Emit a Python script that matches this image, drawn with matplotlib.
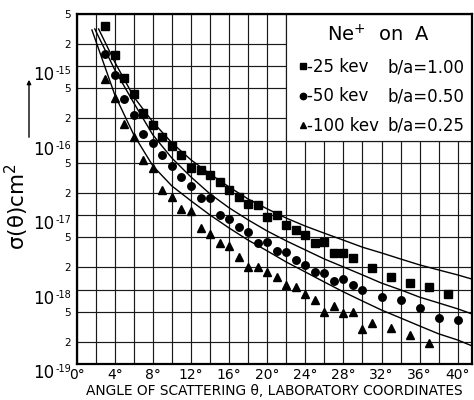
import numpy as np
import matplotlib.pyplot as plt
from matplotlib.ticker import FixedLocator, NullFormatter, FuncFormatter
from matplotlib.lines import Line2D
from matplotlib.patches import Rectangle

plt.rcParams['font.family'] = ['DejaVu Sans']

# measured differential cross sections, Ne+ on A (cm^2 per sr)
ang_25 = [3, 4, 5, 6, 7, 8, 9, 10, 11, 12, 13, 14, 15, 16, 17, 18, 19, 20,
          21, 22, 23, 24, 25, 26, 27, 28, 29, 31, 33, 35, 37, 39]
sig_25 = [3.45e-15, 1.41e-15, 6.9e-16, 4.2e-16, 2.34e-16, 1.62e-16, 1.12e-16,
          8.45e-17, 6.4e-17, 4.3e-17, 4.0e-17, 3.4e-17, 2.8e-17, 2.2e-17,
          1.77e-17, 1.41e-17, 1.35e-17, 9.4e-18, 9.9e-18, 7.4e-18, 6.3e-18,
          5.4e-18, 4.2e-18, 4.3e-18, 3.1e-18, 3.1e-18, 2.63e-18, 1.97e-18,
          1.49e-18, 1.21e-18, 1.09e-18, 8.6e-19]

ang_50 = [3, 4, 5, 6, 7, 8, 9, 10, 11, 12, 13, 14, 15, 16, 17, 18, 19, 20,
          21, 22, 23, 24, 25, 26, 27, 28, 29, 30, 32, 34, 36, 38, 40]
sig_50 = [1.43e-15, 7.6e-16, 3.6e-16, 2.2e-16, 1.24e-16, 9.2e-17, 6.4e-17,
          4.56e-17, 3.2e-17, 2.45e-17, 1.71e-17, 1.69e-17, 1.0e-17, 8.9e-18,
          7.0e-18, 5.9e-18, 4.2e-18, 4.4e-18, 3.3e-18, 3.15e-18, 2.47e-18,
          2.14e-18, 1.74e-18, 1.69e-18, 1.32e-18, 1.39e-18, 1.15e-18, 9.9e-19,
          8.0e-19, 7.2e-19, 5.7e-19, 4.1e-19, 3.9e-19]

ang_100 = [3, 4, 5, 6, 7, 8, 9, 10, 11, 12, 13, 14, 15, 16, 17, 18, 19, 20,
           21, 22, 23, 24, 25, 26, 27, 28, 29, 30, 31, 33, 35, 37]
sig_100 = [6.7e-16, 3.7e-16, 1.69e-16, 1.13e-16, 5.5e-17, 4.25e-17, 2.17e-17,
           1.73e-17, 1.2e-17, 1.13e-17, 6.6e-18, 5.6e-18, 4.2e-18, 3.87e-18,
           2.76e-18, 2.01e-18, 2.02e-18, 1.71e-18, 1.48e-18, 1.14e-18,
           1.08e-18, 8.7e-19, 7.3e-19, 5.0e-19, 6.0e-19, 4.9e-19, 5.0e-19,
           2.96e-19, 3.6e-19, 3.08e-19, 2.45e-19, 1.94e-19]

# calculated curves (screened Coulomb, b/a = 1.00, 0.50, 0.25)
th_ang_25 = [2.3, 4, 6, 8, 10, 12, 14, 16, 18, 20, 22, 24, 26, 28, 30, 32,
             34, 36, 38, 40, 41.5]
th_sig_25 = [3.15e-15, 1.13e-15, 3.85e-16, 1.77e-16, 9.3e-17, 5.5e-17,
             3.56e-17, 2.38e-17, 1.64e-17, 1.21e-17, 9.1e-18, 7.1e-18,
             5.7e-18, 4.6e-18, 3.7e-18, 3.1e-18, 2.57e-18, 2.14e-18,
             1.83e-18, 1.57e-18, 1.38e-18]

th_ang_50 = [1.9, 4, 6, 8, 10, 12, 14, 16, 18, 20, 22, 24, 26, 28, 30, 32,
             34, 36, 38, 40, 41.5]
th_sig_50 = [3.15e-15, 8.9e-16, 3.19e-16, 1.19e-16, 5.8e-17, 3.24e-17,
             1.92e-17, 1.25e-17, 8.6e-18, 6.1e-18, 4.5e-18, 3.4e-18,
             2.57e-18, 2.01e-18, 1.57e-18, 1.22e-18, 9.9e-19, 7.9e-19,
             6.6e-19, 5.5e-19, 4.7e-19]

th_ang_100 = [1.6, 4, 6, 8, 10, 12, 14, 16, 18, 20, 22, 24, 26, 28, 30, 32,
              34, 36, 38, 40, 41.5]
th_sig_100 = [3.05e-15, 4.1e-16, 1.19e-16, 4.56e-17, 2.45e-17, 1.55e-17,
              1.0e-17, 6.7e-18, 4.6e-18, 3.3e-18, 2.34e-18, 1.72e-18,
              1.26e-18, 9.3e-19, 7.0e-19, 5.3e-19, 4.15e-19, 3.24e-19,
              2.54e-19, 2.1e-19, 1.75e-19]

energies = ["25", "50", "100"]
ratios = ["1.00", "0.50", "0.25"]
x_ticks = list(range(0, 41, 4))
decades = [-19, -18, -17, -16, -15]

fig = plt.figure(figsize=(4.74, 4.0), dpi=100)
ax = fig.add_axes([76.7 / 474, 36 / 400, 395.3 / 474, 350 / 400])
ax.set_yscale('log')
ax.set_xlim(0, 41.5)
ax.set_ylim(1e-19, 5e-15)

# grid every 2 degrees and at 1, 2, 5 of each decade
ax.xaxis.set_major_locator(FixedLocator(x_ticks))
ax.xaxis.set_minor_locator(FixedLocator(list(range(2, 42, 4))))
ax.set_xticklabels([f"{t}°" for t in x_ticks])
ax.yaxis.set_major_locator(FixedLocator([10.0 ** d for d in decades]))
ax.yaxis.set_major_formatter(NullFormatter())
minor_y = [m * 10.0 ** d for d in decades for m in (2, 5)]
ax.yaxis.set_minor_locator(FixedLocator(minor_y))
ax.yaxis.set_minor_formatter(FuncFormatter(
    lambda v, p: str(int(round(v / 10.0 ** np.floor(np.log10(v) + 1e-9))))))
ax.grid(which='both', color='#1a1a1a', linewidth=0.85)
ax.set_axisbelow(True)
ax.tick_params(which='both', length=0)
ax.tick_params(axis='x', which='major', labelsize=10, pad=3)
ax.tick_params(axis='y', which='minor', labelsize=7.5, pad=4)
for s in ax.spines.values():
    s.set_linewidth(1.6)

for d in decades:
    ax.text(-0.056, 10.0 ** d, "10", transform=ax.get_yaxis_transform(),
            ha='right', va='top', fontsize=12)
    ax.text(-0.054, 10.0 ** d, f"-{-d}", transform=ax.get_yaxis_transform(),
            ha='left', va='top', fontsize=7)

# white panel for the key
ax.add_patch(Rectangle((22, 1e-16), 41.5 - 22, 5e-15 - 1e-16, facecolor='white',
                       edgecolor='#1a1a1a', linewidth=0.85, zorder=1.5))

for a, s in [(th_ang_25, th_sig_25), (th_ang_50, th_sig_50), (th_ang_100, th_sig_100)]:
    ax.plot(a, s, color='black', linewidth=1.0, zorder=3)

h1, = ax.plot(ang_25, sig_25, 's', color='black', markersize=5.2, zorder=4)
h2, = ax.plot(ang_50, sig_50, 'o', color='black', markersize=5.4, zorder=4)
h3, = ax.plot(ang_100, sig_100, '^', color='black', markersize=5.8, zorder=4)

blank = Line2D([], [], linestyle='none')
ax.legend([h1, h2, h3, blank, blank, blank],
          [f"-{e} kev" for e in energies] + [f"b/a={r}" for r in ratios],
          ncol=2, loc='upper left', bbox_to_anchor=(0.562, 0.874),
          frameon=False, borderpad=0, borderaxespad=0, handlelength=0.45,
          handletextpad=0.05, columnspacing=0.0, labelspacing=0.68,
          fontsize=12, markerscale=0.85)
ax.text(0.763, 0.94, "Ne$^{+}$  on  A", transform=ax.transAxes,
        ha='center', va='center', fontsize=14)

ax.set_xlabel("ANGLE OF SCATTERING θ, LABORATORY COORDINATES",
              fontsize=9.9, labelpad=1)
fig.text(17 / 474, 1 - 207 / 400, "σ(θ)cm$^2$", rotation=90,
         ha='center', va='center', fontsize=15.5)
ax.annotate("", xy=(29 / 474, 1 - 77 / 400), xytext=(29 / 474, 1 - 140 / 400),
            xycoords='figure fraction', textcoords='figure fraction',
            arrowprops=dict(arrowstyle='-|>', color='black', lw=1.0,
                            mutation_scale=6))

fig.savefig("out.png", dpi=100)
